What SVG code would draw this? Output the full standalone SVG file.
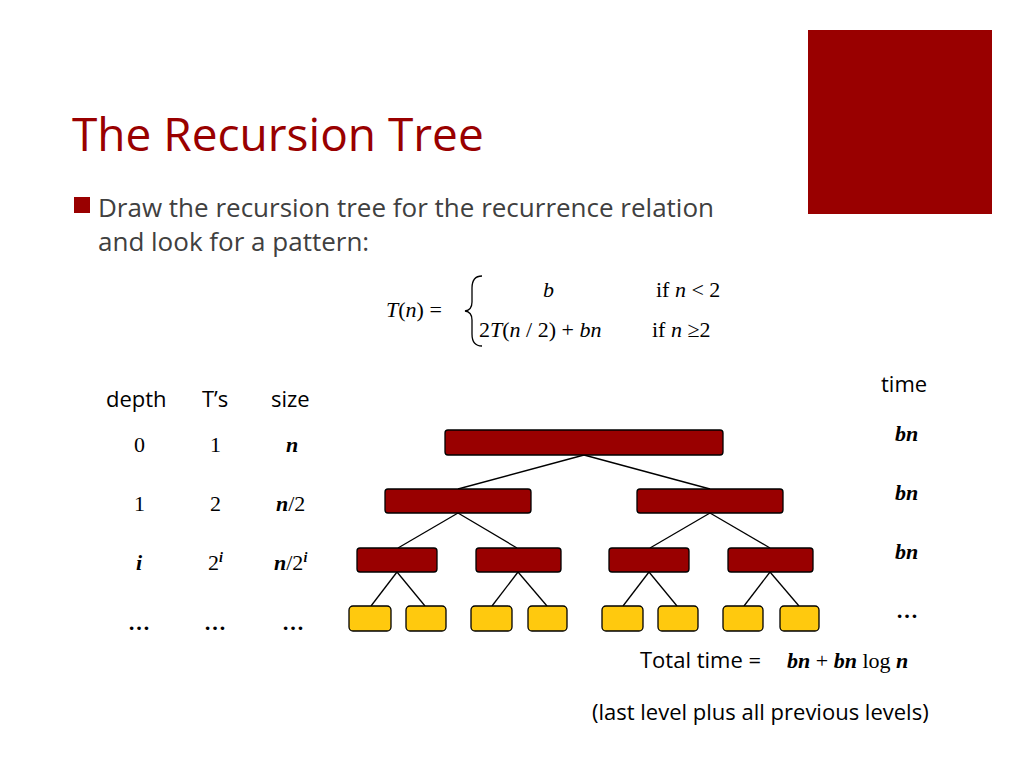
<svg xmlns="http://www.w3.org/2000/svg" width="1024" height="768" viewBox="0 0 1024 768">
<style>
.r{fill:#990000;stroke:#000;stroke-width:1.3}
.y{fill:#FFC90E;stroke:#000;stroke-width:1.3}
.s{font-family:"Open Sans","Noto Sans",sans-serif;fill:#000}
.m{font-family:"Liberation Serif",serif;fill:#000}
</style>
<rect width="1024" height="768" fill="#fff"/>
<rect x="808" y="30" width="184" height="184" fill="#990000"/>
<text x="72" y="151" font-family="Open Sans,sans-serif" font-size="46" fill="#990000">The Recursion Tree</text>
<rect x="74" y="197" width="16" height="16" fill="#990000"/>
<text x="98" y="217" class="s" font-size="26" fill="#404040" style="fill:#404040">Draw the recursion tree for the recurrence relation</text>
<text x="98" y="251" class="s" font-size="26" style="fill:#404040">and look for a pattern:</text>
<g class="m" font-size="22">
<text x="386" y="317"><tspan font-style="italic">T</tspan>(<tspan font-style="italic">n</tspan>) =</text>
<path d="M482,276 Q472,276 472,288 L472,302 Q472,310 465,311 Q472,312 472,320 L472,334 Q472,346 482,346" fill="none" stroke="#000" stroke-width="1.3"/>
<text x="543" y="297" font-style="italic">b</text>
<text x="656" y="297">if <tspan font-style="italic">n</tspan> &lt; 2</text>
<text x="479" y="337">2<tspan font-style="italic">T</tspan>(<tspan font-style="italic">n</tspan> / 2) + <tspan font-style="italic">bn</tspan></text>
<text x="652" y="337">if <tspan font-style="italic">n</tspan> ≥2</text>
</g>
<g class="s" font-size="22">
<text x="106" y="407">depth</text><text x="202" y="407">T’s</text><text x="271" y="407">size</text>
<text x="881" y="392">time</text>
<text x="640" y="668">Total time = </text>
<text x="592" y="720">(last level plus all previous levels)</text>
</g>
<g class="m" font-size="22">
<text x="134" y="452">0</text><text x="210" y="452">1</text><text x="286" y="452" font-weight="bold" font-style="italic">n</text>
<text x="134" y="511">1</text><text x="210" y="511">2</text><text x="276" y="511"><tspan font-weight="bold" font-style="italic">n</tspan>/2</text>
<text x="136" y="570" font-weight="bold" font-style="italic">i</text><text x="208" y="570">2<tspan font-size="14" dy="-8" font-weight="bold" font-style="italic">i</tspan></text>
<text x="274" y="570"><tspan font-weight="bold" font-style="italic">n</tspan>/2<tspan font-size="14" dy="-8" font-weight="bold" font-style="italic">i</tspan></text>
<text x="128" y="630" font-weight="bold">…</text><text x="204" y="630" font-weight="bold">…</text><text x="282" y="630" font-weight="bold">…</text>
<text x="895" y="441" font-weight="bold" font-style="italic">bn</text>
<text x="895" y="500" font-weight="bold" font-style="italic">bn</text>
<text x="895" y="559" font-weight="bold" font-style="italic">bn</text>
<text x="896" y="618" font-weight="bold">…</text>
<text x="787" y="668"><tspan font-weight="bold" font-style="italic">bn</tspan> + <tspan font-weight="bold" font-style="italic">bn</tspan> log <tspan font-weight="bold" font-style="italic">n</tspan></text>
</g>
<g id="connectors" stroke="#000" stroke-width="1.3">
<line x1="584" y1="455" x2="458" y2="489"/><line x1="584" y1="455" x2="710" y2="489"/>
<line x1="458" y1="513" x2="398" y2="548"/><line x1="458" y1="513" x2="517" y2="548"/>
<line x1="710" y1="513" x2="650" y2="548"/><line x1="710" y1="513" x2="770" y2="548"/>
<line x1="397" y1="572" x2="371" y2="606"/><line x1="397" y1="572" x2="425" y2="606"/>
<line x1="518" y1="572" x2="492" y2="606"/><line x1="518" y1="572" x2="547" y2="606"/>
<line x1="649" y1="572" x2="623" y2="606"/><line x1="649" y1="572" x2="677" y2="606"/>
<line x1="770" y1="572" x2="744" y2="606"/><line x1="770" y1="572" x2="799" y2="606"/>
</g>
<g id="root"><rect class="r" x="445" y="430" width="278" height="25" rx="3"/></g>
<g id="n1a"><rect class="r" x="385" y="489" width="146" height="24" rx="3"/></g>
<g id="n1b"><rect class="r" x="637" y="489" width="146" height="24" rx="3"/></g>
<g id="n2a"><rect class="r" x="357" y="548" width="80" height="24" rx="3"/></g>
<g id="n2b"><rect class="r" x="476" y="548" width="85" height="24" rx="3"/></g>
<g id="n2c"><rect class="r" x="609" y="548" width="80" height="24" rx="3"/></g>
<g id="n2d"><rect class="r" x="728" y="548" width="85" height="24" rx="3"/></g>
<g id="l1"><rect class="y" x="349" y="606" width="42" height="25" rx="4"/></g>
<g id="l2"><rect class="y" x="406" y="606" width="40" height="25" rx="4"/></g>
<g id="l3"><rect class="y" x="471" y="606" width="41" height="25" rx="4"/></g>
<g id="l4"><rect class="y" x="528" y="606" width="39" height="25" rx="4"/></g>
<g id="l5"><rect class="y" x="602" y="606" width="41" height="25" rx="4"/></g>
<g id="l6"><rect class="y" x="658" y="606" width="40" height="25" rx="4"/></g>
<g id="l7"><rect class="y" x="723" y="606" width="40" height="25" rx="4"/></g>
<g id="l8"><rect class="y" x="780" y="606" width="39" height="25" rx="4"/></g>
</svg>
